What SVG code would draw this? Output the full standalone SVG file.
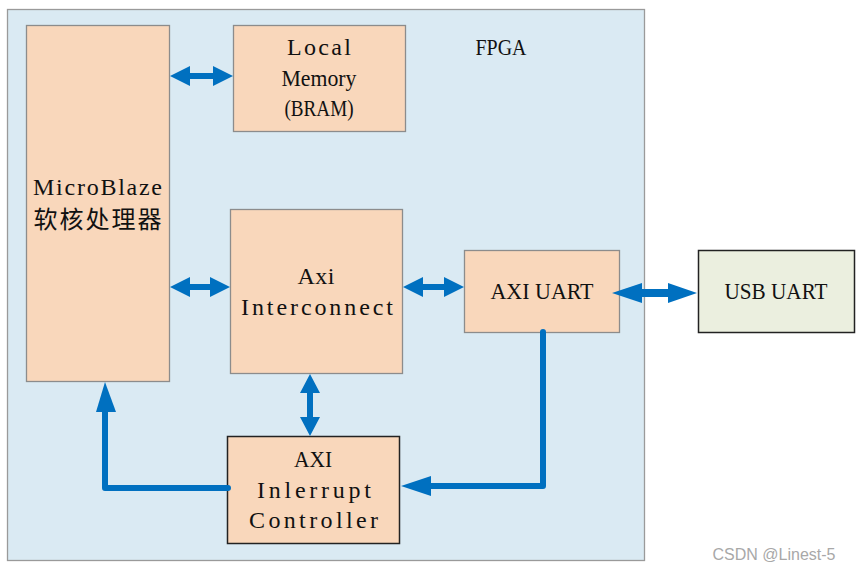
<svg xmlns="http://www.w3.org/2000/svg" width="861" height="570" viewBox="0 0 861 570">
<style>
.box{fill:#F9D7BB;stroke:#8C8C8C;stroke-width:1.3}
.dark{stroke:#222;stroke-width:1.5}
.t{font-family:"Liberation Serif","Times New Roman",serif;font-size:24px;fill:#111;text-anchor:middle}
.cjk{font-family:"Noto Sans CJK SC",sans-serif;font-size:24px;fill:#111;text-anchor:middle}
.ln{fill:none;stroke:#0070C0;stroke-width:6;stroke-linecap:round;stroke-linejoin:round}
.hd{fill:#0070C0}
</style>
<rect width="861" height="570" fill="#ffffff"/>
<g id="fpga">
<rect x="7.5" y="9.5" width="637" height="551" fill="#DAEAF3" stroke="#9A9A9A" stroke-width="1.3"/>
<text class="t" x="501" y="55" textLength="51" lengthAdjust="spacingAndGlyphs">FPGA</text>
</g>
<g id="microblaze">
<rect class="box" x="26.5" y="25.5" width="143" height="356"/>
<text class="t" x="97.5" y="195" textLength="129" lengthAdjust="spacing">MicroBlaze</text>
<text class="cjk" x="97.5" y="228" textLength="128" lengthAdjust="spacing">软核处理器</text>
</g>
<g id="localmem">
<rect class="box" x="233.5" y="25.5" width="172" height="106"/>
<text class="t" x="319" y="55" textLength="64" lengthAdjust="spacing">Local</text>
<text class="t" x="319" y="86" textLength="75" lengthAdjust="spacingAndGlyphs">Memory</text>
<text class="t" x="319" y="116" textLength="69" lengthAdjust="spacingAndGlyphs">(BRAM)</text>
</g>
<g id="interconnect">
<rect class="box" x="230.5" y="209.5" width="172" height="164"/>
<text class="t" x="316" y="284" textLength="37" lengthAdjust="spacing">Axi</text>
<text class="t" x="317" y="315" textLength="152" lengthAdjust="spacing">Interconnect</text>
</g>
<g id="axiuart">
<rect class="box" x="464.5" y="250.5" width="155" height="82"/>
<text class="t" x="542" y="299" textLength="103" lengthAdjust="spacingAndGlyphs">AXI UART</text>
</g>
<g id="usbuart">
<rect class="box dark" x="698.5" y="250.5" width="156" height="82" style="fill:#EBEFDF"/>
<text class="t" x="776" y="299" textLength="103" lengthAdjust="spacingAndGlyphs">USB UART</text>
</g>
<g id="intc">
<rect class="box dark" x="227.5" y="436.5" width="172" height="107"/>
<text class="t" x="313" y="467" textLength="38" lengthAdjust="spacingAndGlyphs">AXI</text>
<text class="t" x="314" y="498" textLength="114" lengthAdjust="spacing">Inlerrupt</text>
<text class="t" x="313.5" y="528" textLength="129" lengthAdjust="spacing">Controller</text>
</g>
<g id="connectors">
<polygon class="hd" points="170,76 190,66 190,73 213,73 213,66 233,76 213,86 213,79 190,79 190,86"/>
<polygon class="hd" points="170,287 190,277 190,284 210,284 210,277 230,287 210,297 210,290 190,290 190,297"/>
<polygon class="hd" points="403,287 423,277 423,284 444,284 444,277 464,287 444,297 444,290 423,290 423,297"/>
<polygon class="hd" points="612,293 642,283 642,289 668,289 668,283 697,293 668,303 668,297 642,297 642,303"/>
<polygon class="hd" points="310,374 320,393 313,393 313,417 320,417 310,436 300,417 307,417 307,393 300,393"/>
<polyline class="ln" points="543,332 543,486 430,486"/>
<polygon class="hd" points="401,486 431,476 431,496"/>
<polyline class="ln" points="228,488 105,488 105,410"/>
<polygon class="hd" points="105,382 96,412 116,412"/>
</g>
<text x="774" y="560" font-family="Liberation Sans,Arial,sans-serif" font-size="16" fill="#A8A8A8" text-anchor="middle">CSDN @Linest-5</text>
</svg>
